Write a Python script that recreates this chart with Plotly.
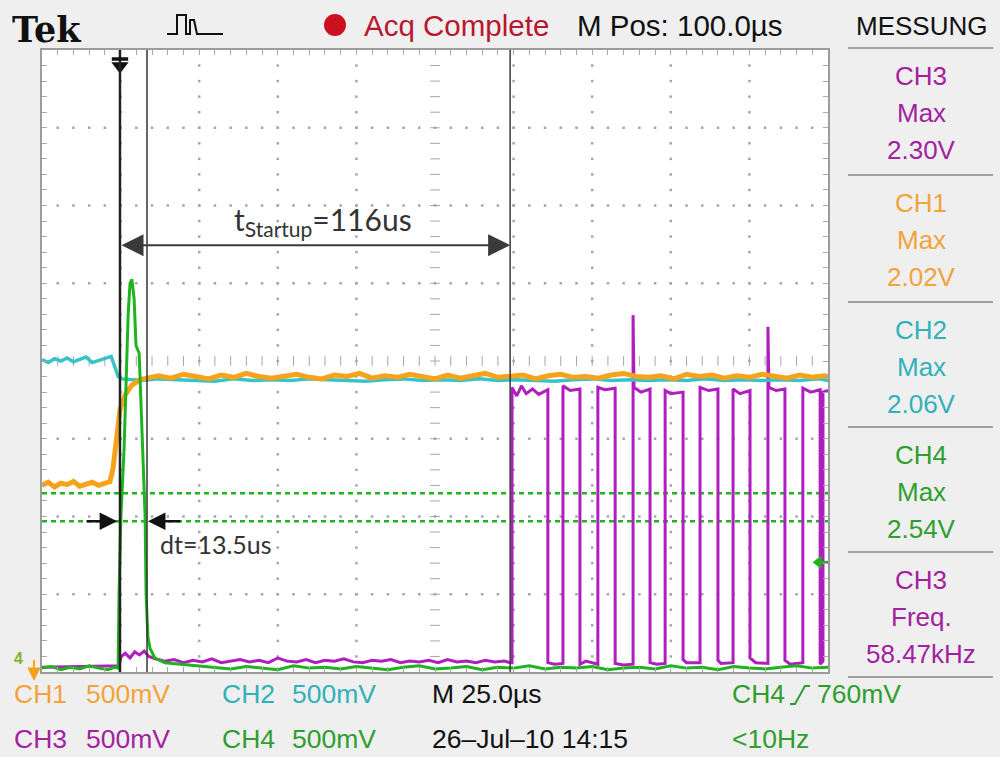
import plotly.graph_objects as go

# ---- waveform data: time in µs (25 µs/div), level in screen divisions (500 mV/div) ----
ch1_t = [0, 2, 4, 6, 8, 10, 12, 14, 16, 18, 20, 21.6, 22.6, 23.5, 24.8, 26.4, 28.6, 31.2, 34.4,
         37, 41, 45, 49, 53, 57, 61, 65, 69, 73, 77, 81, 85, 89, 93, 97, 101, 105, 109, 113,
         117, 121, 125, 129, 133, 137, 141, 145, 149, 153, 157, 161, 165, 169, 173, 177, 181,
         185, 189, 193, 197, 201, 205, 209, 213, 217, 221, 225, 229, 233, 237, 241, 245, 249, 250]
ch1_v = [2.40, 2.44, 2.38, 2.43, 2.41, 2.45, 2.39, 2.42, 2.44, 2.40, 2.42, 2.45, 2.62, 2.98, 3.37,
         3.56, 3.69, 3.76, 3.79,
         3.81, 3.78, 3.83, 3.80, 3.77, 3.82, 3.79, 3.84, 3.80, 3.78,
         3.81, 3.83, 3.79, 3.77, 3.82, 3.80, 3.84, 3.78, 3.81, 3.79,
         3.83, 3.80, 3.77, 3.82, 3.78, 3.81, 3.84, 3.79, 3.80, 3.82,
         3.77, 3.81, 3.83, 3.79, 3.80, 3.78, 3.82, 3.84, 3.80, 3.79,
         3.81, 3.77, 3.83, 3.80, 3.82, 3.78, 3.81, 3.79, 3.83, 3.80,
         3.78, 3.82, 3.79, 3.81, 3.80]

ch2_t = [0, 2, 4, 6, 8, 10, 12, 14, 16, 18, 20, 22, 23.2, 24.2, 25.5, 28, 32,
         37, 43, 49, 55, 61, 67, 73, 79, 85, 91, 97, 103, 109, 115, 121, 127, 133, 139,
         145, 151, 157, 163, 169, 175, 181, 187, 193, 199, 205, 211, 217, 223, 229, 235,
         241, 247, 250]
ch2_v = [4.02, 3.98, 4.03, 4.00, 4.04, 3.99, 4.02, 4.05, 3.98, 4.01, 4.03, 4.06, 3.92, 3.80, 3.77,
         3.76, 3.75, 3.77, 3.76, 3.76, 3.74, 3.77, 3.75, 3.76, 3.75,
         3.77, 3.76, 3.75, 3.74, 3.76, 3.77, 3.75, 3.76, 3.75, 3.77,
         3.75, 3.76, 3.75, 3.74, 3.76, 3.77, 3.75, 3.76, 3.75, 3.76,
         3.75, 3.77, 3.75, 3.76, 3.75, 3.76, 3.75, 3.77, 3.75]

ch3_t = [0, 24.5, 25.2, 26.5, 28, 29.5, 31, 32.5, 34,
         36, 39, 42, 45, 48, 51, 54, 57, 60, 63, 66, 69, 72, 75, 78, 81, 84, 87, 90, 93,
         96, 99, 102, 105, 108, 111, 114, 117, 120, 123, 126, 129, 132, 135, 138, 141, 144, 147,
         148.9,
         149.5, 149.5, 151, 152.5, 154, 156, 158, 160.9, 160.9, 163, 165.7,
         165.7, 168, 171.1, 171.1, 173, 176.8,
         176.8, 179, 182.3, 182.3, 185, 188.0,
         188.0, 188.3, 190.5, 193.4, 193.4, 195.5, 198.2,
         198.2, 200, 203.9, 203.9, 205, 209.3,
         209.3, 212, 215.0, 215.0, 216, 219.8,
         219.8, 222, 225.2, 225.2, 227, 230.9,
         230.9, 231.2, 233.5, 236.3, 236.3, 238, 242.0,
         242.0, 244.5, 247.5, 247.5, 248.4, 248.4, 250]
ch3_v = [0.06, 0.08, 0.20, 0.24, 0.18, 0.26, 0.22, 0.27, 0.20,
         0.17, 0.14, 0.16, 0.12, 0.15, 0.13, 0.17, 0.12, 0.14, 0.16,
         0.13, 0.15, 0.12, 0.18, 0.14, 0.13, 0.16, 0.12, 0.15, 0.14,
         0.17, 0.13, 0.12, 0.15, 0.14, 0.16, 0.12, 0.14, 0.13, 0.15,
         0.12, 0.16, 0.13, 0.14, 0.12, 0.15, 0.13, 0.14,
         0.12,
         0.12, 3.66, 3.55, 3.68, 3.58, 3.64, 3.57, 3.63, 0.12, 0.10, 0.11,
         3.68, 3.62, 3.64, 0.10, 0.14, 0.10,
         3.66, 3.63, 3.65, 0.11, 0.09, 0.10,
         4.59, 3.66, 3.60, 3.64, 0.12, 0.10, 0.11,
         3.62, 3.58, 3.60, 0.16, 0.12, 0.12,
         3.66, 3.62, 3.64, 0.15, 0.11, 0.12,
         3.64, 3.58, 3.62, 0.18, 0.12, 0.11,
         4.44, 3.66, 3.62, 3.64, 0.15, 0.10, 0.12,
         3.65, 3.60, 3.63, 0.10, 0.14, 3.60, 3.62]

ch4_t = [0, 3, 6, 9, 12, 15, 18, 21, 23, 24.2,
         24.5, 25.1, 26.1, 26.7, 27.4, 28.0, 28.6, 29.3, 29.9, 30.9,
         31.5, 32.1, 32.8, 33.1, 33.7, 34.4, 35.9, 39.1, 44, 50,
         55, 60, 65, 70, 75, 80, 85, 90, 95, 100, 105, 110, 115, 120, 125, 130, 135, 140,
         145, 150, 155, 160, 165, 170, 175, 180, 185, 190, 195, 200, 205, 210, 215, 220,
         225, 230, 235, 240, 245, 250]
ch4_v = [0.05, 0.07, 0.03, 0.06, 0.04, 0.08, 0.05, 0.03, 0.06, 0.05,
         1.0, 2.0, 2.86, 3.8, 4.6, 5.0, 5.05, 4.8, 4.2, 4.1,
         3.4, 2.6, 2.0, 1.0, 0.45, 0.30, 0.18, 0.12, 0.10, 0.08,
         0.06, 0.04, 0.07, 0.05, 0.03, 0.08, 0.05, 0.06, 0.04, 0.07,
         0.05, 0.03, 0.06, 0.08, 0.04, 0.05, 0.07, 0.03, 0.06, 0.05,
         0.08, 0.04, 0.06, 0.05, 0.07, 0.03, 0.05, 0.06, 0.04, 0.08,
         0.05, 0.06, 0.03, 0.07, 0.05, 0.04, 0.06, 0.08, 0.05, 0.06]

# cursors and levels
cursor_t = [24.8, 33.4, 148.9]          # µs
ch4_cursor_levels = [2.30, 1.94]        # div
trigger_level = 1.41                    # div
startup_y = 5.49
dt_arrows = [(13.7, 23.9), (44.5, 33.7)]  # (tail, head) in µs
dt_y = 1.94

# measurement panel
meas = [("CH3", "Max", "2.30V", "#a3219f"),
        ("CH1", "Max", "2.02V", "#f2a33a"),
        ("CH2", "Max", "2.06V", "#2fb2b8"),
        ("CH4", "Max", "2.54V", "#2e9e2e"),
        ("CH3", "Freq.", "58.47kHz", "#a3219f")]

C1, C2, C3, C4 = "#f7a21b", "#38c3c9", "#b01ec0", "#1eb41e"
T1, T2, T3, T4 = "#f2a33a", "#2fb2b8", "#a3219f", "#2e9e2e"
SCOPE = "Liberation Sans, Arial, sans-serif"

# screen frame in pixels
L, R, T, B = 42, 828, 50, 672
def px(x):
    return (x - L) / (R - L)
def py(y):
    return (B - y) / (B - T)
def path(points):
    return "M " + " L ".join(f"{px(a):.5f},{py(b):.5f}" for a, b in points)

fig = go.Figure()

# graticule: dotted division lines
gx, gy = [], []
for k in range(1, 10):
    if k == 5:
        continue
    for j in range(1, 40):
        gx.append(k * 25); gy.append(j * 0.2)
for k in range(1, 8):
    if k == 4:
        continue
    for j in range(1, 50):
        gx.append(j * 5); gy.append(k)
fig.add_trace(go.Scatter(x=gx, y=gy, mode="markers", hoverinfo="skip",
                         marker=dict(symbol="square", size=2.5, color="#a6a6a6")))
# centre crosshair ticks
fig.add_trace(go.Scatter(x=[j * 5 for j in range(1, 50)], y=[4] * 49, mode="markers",
                         hoverinfo="skip",
                         marker=dict(symbol="line-ns", size=7, line=dict(width=1, color="#a6a6a6"))))
fig.add_trace(go.Scatter(x=[125] * 39, y=[j * 0.2 for j in range(1, 40)], mode="markers",
                         hoverinfo="skip",
                         marker=dict(symbol="line-ew", size=7, line=dict(width=1, color="#a6a6a6"))))

# CH4 level cursors (dotted green)
for lv in ch4_cursor_levels:
    fig.add_trace(go.Scatter(x=[0, 250], y=[lv, lv], mode="lines", hoverinfo="skip",
                             line=dict(color=C4, width=2.5, dash="5px,4px")))

# waveforms
fig.add_trace(go.Scatter(x=ch3_t, y=ch3_v, mode="lines", line=dict(color=C3, width=3), name="CH3"))
fig.add_trace(go.Scatter(x=ch2_t, y=ch2_v, mode="lines", line=dict(color=C2, width=3.5), name="CH2"))
fig.add_trace(go.Scatter(x=ch1_t, y=ch1_v, mode="lines", line=dict(color=C1, width=5), name="CH1"))
fig.add_trace(go.Scatter(x=ch4_t, y=ch4_v, mode="lines", line=dict(color=C4, width=3), name="CH4"))

# trigger level marker on right edge
fig.add_trace(go.Scatter(x=[247.0], y=[trigger_level], mode="markers", cliponaxis=False,
                         hoverinfo="skip",
                         marker=dict(symbol="triangle-left", size=12, color=C4)))
fig.add_trace(go.Scatter(x=[247.5, 250], y=[trigger_level, trigger_level], mode="lines",
                         cliponaxis=False, hoverinfo="skip", line=dict(color=C4, width=3)))

# trigger position marker at top
fig.add_trace(go.Scatter(x=[cursor_t[0]], y=[(B - 66) / 77.75], mode="markers", cliponaxis=False,
                         hoverinfo="skip",
                         marker=dict(symbol="triangle-down", size=15, color="#111")))

shapes = []
widths = [2.5, 1.5, 1.5]
colors = ["#222", "#333", "#3a3a3a"]
for t, w, c in zip(cursor_t, widths, colors):
    shapes.append(dict(type="line", xref="x", yref="paper", x0=t, x1=t, y0=0, y1=1,
                       line=dict(color=c, width=w)))
shapes.append(dict(type="line", xref="x", yref="paper", x0=cursor_t[0] - 2.6, x1=cursor_t[0] + 2.6,
                   y0=py(59), y1=py(59), line=dict(color="#111", width=3.5)))

# CH1 ground marker at lower left
shapes.append(dict(type="path", xref="paper", yref="paper",
                   path=path([(28, 668), (40, 668), (34, 680)]) + " Z",
                   fillcolor=C1, line=dict(color=C1, width=1)))
shapes.append(dict(type="line", xref="paper", yref="paper", x0=px(34), x1=px(34),
                   y0=py(660), y1=py(668), line=dict(color=C1, width=2)))

# measurement panel separators
for yy in [48, 175, 302, 427, 552, 677]:
    shapes.append(dict(type="line", xref="paper", yref="paper", x0=px(848), x1=px(993),
                       y0=py(yy), y1=py(yy), line=dict(color="#a0a0a0", width=2)))

# acquisition indicator dot
shapes.append(dict(type="circle", xref="paper", yref="paper", x0=px(324), x1=px(346),
                   y0=py(36), y1=py(14), fillcolor="#cc1020", line=dict(width=0)))
# trigger-mode icon
icon = [(167, 34), (177, 34), (177, 15), (186, 15), (186, 34), (190, 34), (190, 20),
        (194, 20), (197, 34), (223, 34)]
shapes.append(dict(type="path", xref="paper", yref="paper", path=path(icon),
                   line=dict(color="#111", width=2)))
# rising edge glyph in trigger readout
edge = [(790, 704), (795, 704), (805, 686), (810, 686)]
shapes.append(dict(type="path", xref="paper", yref="paper", path=path(edge),
                   line=dict(color=T4, width=2)))

ann = []
def text(x, y, s, color="#111", size=26.5, anchor="left", family=SCOPE):
    ann.append(dict(x=px(x), y=py(y), xref="paper", yref="paper", text=s, showarrow=False,
                    xanchor=anchor, yanchor="middle", font=dict(family=family, size=size, color=color)))

# header
text(10, 29, "<b>Tek</b>", size=35, family="DejaVu Serif, Liberation Serif, serif")
text(362, 26, "Acq Complete", color="#b8172f", size=29.5)
text(575, 26, "M Pos: 100.0µs", size=29.5)
text(921, 26, "MESSUNG", size=26, anchor="center")

# measurement panel
for i, (ch, kind, val, col) in enumerate(meas):
    top = [48, 175, 302, 427, 552][i]
    text(921, top + 28, ch, col, 26, "center")
    text(921, top + 65, kind, col, 26, "center")
    text(921, top + 102, val, col, 26, "center")

# bottom readout
text(12, 694, "CH1", T1); text(84, 694, "500mV", T1)
text(220, 694, "CH2", T2); text(290, 694, "500mV", T2)
text(430, 694, "M 25.0µs")
text(730, 694, "CH4", T4); text(815, 694, "760mV", T4)
text(12, 739, "CH3", T3); text(84, 739, "500mV", T3)
text(220, 739, "CH4", T4); text(290, 739, "500mV", T4)
text(430, 739, "26–Jul–10 14:15")
text(730, 739, "<10Hz", T4)

# CH4 ground marker
text(12, 658, "<b>4</b>", "#7fb52c", 16)

# timing annotations
ann.append(dict(x=cursor_t[2], y=startup_y, ax=cursor_t[0], ay=startup_y, xref="x", yref="y",
                axref="x", ayref="y", text="", showarrow=True, arrowside="end+start",
                arrowhead=2, startarrowhead=2, arrowsize=2.2, startarrowsize=2.2, arrowwidth=2,
                arrowcolor="#3a3a3a", standoff=0, startstandoff=0))
ann.append(dict(x=89.5, y=5.80, xref="x", yref="y", text="t<sub>Startup</sub>=116us",
                showarrow=False, font=dict(family="Lato, Open Sans, sans-serif", size=30, color="#333")))
for tail, head in dt_arrows:
    ann.append(dict(x=head, y=dt_y, ax=tail, ay=dt_y, xref="x", yref="y", axref="x", ayref="y",
                    text="", showarrow=True, arrowhead=2, arrowsize=1.4, arrowwidth=2.5,
                    arrowcolor="#111", standoff=0))
ann.append(dict(x=55.5, y=1.65, xref="x", yref="y", text="dt=13.5us", showarrow=False,
                font=dict(family="Lato, Open Sans, sans-serif", size=25, color="#333")))

fig.update_layout(
    width=1000, height=757, margin=dict(l=L, r=1000 - R, t=T, b=757 - B),
    paper_bgcolor="#efefef", plot_bgcolor="white", showlegend=False,
    shapes=shapes, annotations=ann,
    xaxis=dict(range=[0, 250], showgrid=False, zeroline=False, showline=True, linecolor="#9c9c9c",
               linewidth=1.5, mirror="ticks", ticks="inside", ticklen=5, tickcolor="#a8a8a8",
               tickvals=[j * 5 for j in range(1, 50)], showticklabels=False, fixedrange=True),
    yaxis=dict(range=[0, 8], showgrid=False, zeroline=False, showline=True, linecolor="#9c9c9c",
               linewidth=1.5, mirror="ticks", ticks="inside", ticklen=5, tickcolor="#a8a8a8",
               tickvals=[j * 0.2 for j in range(1, 40)], showticklabels=False, fixedrange=True),
)

fig.write_html("out.html")
